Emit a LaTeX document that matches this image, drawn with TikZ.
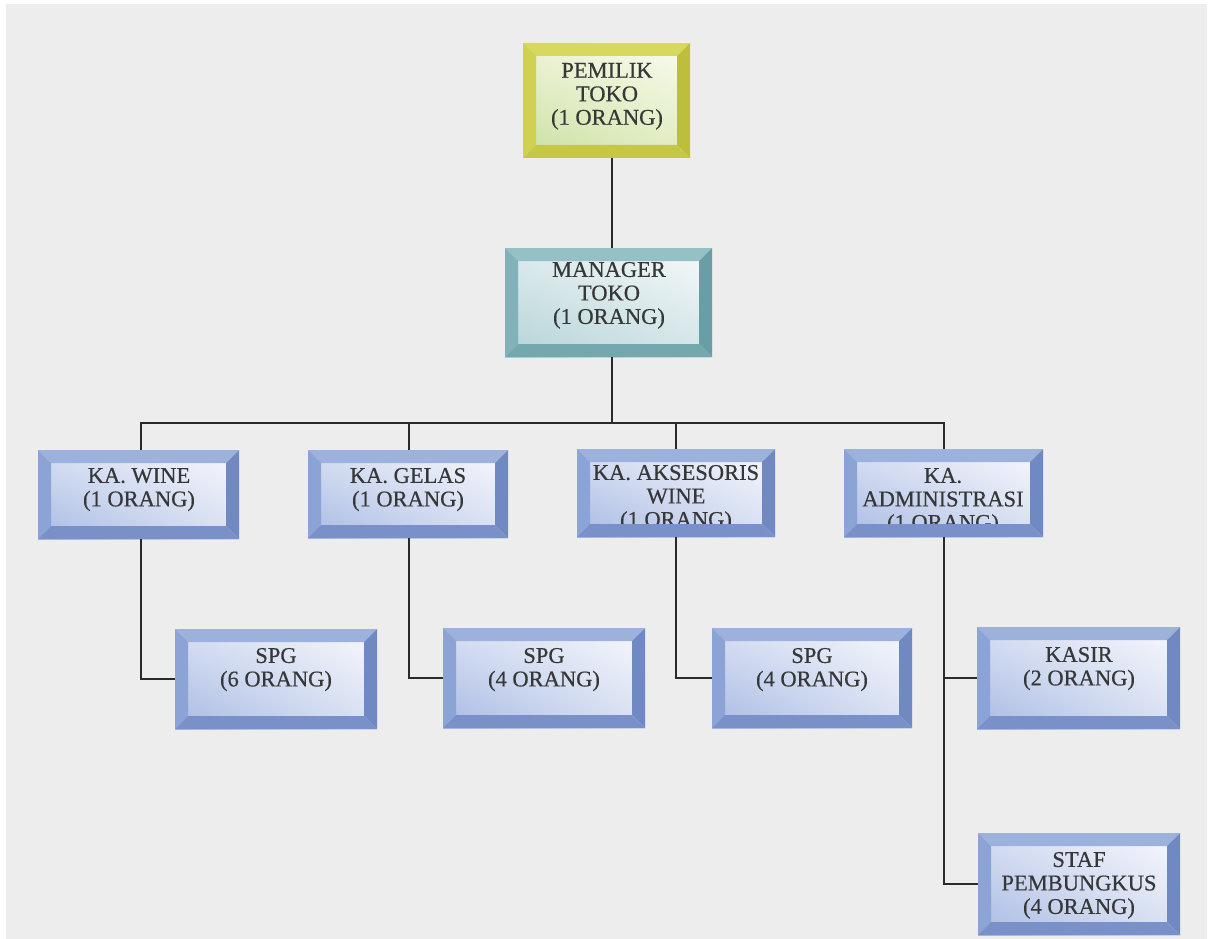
\documentclass[tikz,border=0pt]{standalone}
\usepackage{fontspec}
\setmainfont[FakeBold=0.5]{Liberation Serif}
\usetikzlibrary{shadings}
\definecolor{bgc}{HTML}{EDEDED}
\definecolor{txtc}{HTML}{363838}
\definecolor{linec}{HTML}{2A2A2A}
% blue scheme
\definecolor{bT}{HTML}{9CB1DC}
\definecolor{bL}{HTML}{8CA4D5}
\definecolor{bR}{HTML}{7189C2}
\definecolor{bB}{HTML}{7991C8}
\definecolor{bLL}{HTML}{A8BAE3}
\definecolor{bUL}{HTML}{D6DEF2}
\definecolor{bUR}{HTML}{F8F9FC}
\definecolor{bLR}{HTML}{D8E0F2}
% yellow scheme
\definecolor{yT}{HTML}{D8D85C}
\definecolor{yL}{HTML}{D0D052}
\definecolor{yR}{HTML}{BDBE3C}
\definecolor{yB}{HTML}{C5C747}
\definecolor{yLL}{HTML}{C9E0A0}
\definecolor{yUL}{HTML}{EEF3D8}
\definecolor{yUR}{HTML}{FAFBEF}
\definecolor{yLR}{HTML}{E0EDC2}
% teal scheme
\definecolor{tT}{HTML}{94C0C6}
\definecolor{tL}{HTML}{82B2B9}
\definecolor{tR}{HTML}{6A9EA6}
\definecolor{tB}{HTML}{74A7AE}
\definecolor{tLL}{HTML}{B3D2D6}
\definecolor{tUL}{HTML}{DDEBED}
\definecolor{tUR}{HTML}{F6F9FA}
\definecolor{tLR}{HTML}{D4E5E8}
\tikzset{
  face/.style={rectangle, inner sep=0pt, outer sep=0pt, shade,
    lower left=#1LL, upper left=#1UL, upper right=#1UR, lower right=#1LR},
  lbl/.style={inner sep=0pt, outer sep=0pt, align=center, text=txtc, anchor=north,
    font=\fontsize{22.5}{23.5}\selectfont},
  conn/.style={draw=linec, line width=1.4pt, line join=miter},
}
% box face: name, scheme, x1, y1, x2, y2
\newcommand\mkface[6]{%
  \node[face=#2, minimum width={#5-#3}, minimum height={#6-#4}] (#1)
    at ({(#3+#5)/2},{(#4+#6)/2}) {};}
% bevel frame: node, scheme, width
\newcommand\mkbevel[3]{%
  \fill[#2T] (#1.north west) -- (#1.north east) -- ([shift={(-#3pt,-#3pt)}]#1.north east) -- ([shift={(#3pt,-#3pt)}]#1.north west) -- cycle;
  \fill[#2L] (#1.north west) -- ([shift={(#3pt,-#3pt)}]#1.north west) -- ([shift={(#3pt,#3pt)}]#1.south west) -- (#1.south west) -- cycle;
  \fill[#2R] (#1.north east) -- ([shift={(-#3pt,-#3pt)}]#1.north east) -- ([shift={(-#3pt,#3pt)}]#1.south east) -- (#1.south east) -- cycle;
  \fill[#2B] (#1.south west) -- ([shift={(#3pt,#3pt)}]#1.south west) -- ([shift={(-#3pt,#3pt)}]#1.south east) -- (#1.south east) -- cycle;}
\begin{document}
\begin{tikzpicture}[x=1pt,y=-1pt]
\useasboundingbox (0,0) rectangle (1211,939);
\fill[white] (0,0) rectangle (1211,939);
\fill[bgc] (6,4) rectangle (1207,939);

% faces
\mkface{pemilik}{y}{523}{43}{690}{158}
\mkface{manager}{t}{505}{248}{712}{357}
\mkface{kawine}{b}{38}{450}{239}{539}
\mkface{kagelas}{b}{308}{450}{508}{538}
\mkface{kaaks}{b}{577}{449}{775}{537}
\mkface{kaadm}{b}{844}{449}{1043}{537}
\mkface{spga}{b}{175}{629}{377}{729}
\mkface{spgb}{b}{443}{628}{645}{728}
\mkface{spgc}{b}{712}{628}{912}{728}
\mkface{kasir}{b}{977}{627}{1180}{729}
\mkface{staf}{b}{978}{833}{1180}{935}

% texts
\node[lbl] (tpemilik) at (607,63) {PEMILIK\\TOKO\\(1 ORANG)};
\node[lbl] (tmanager) at (609,262) {MANAGER\\TOKO\\(1 ORANG)};
\node[lbl] (tkawine) at (139,468) {KA. WINE\\(1 ORANG)};
\node[lbl] (tkagelas) at (408,468) {KA. GELAS\\(1 ORANG)};
\node[lbl] (tkaaks) at (676,465) {KA. AKSESORIS\\WINE\\(1 ORANG)};
\node[lbl] (tkaadm) at (943,468) {KA.\\ADMINISTRASI\\(1 ORANG)};
\node[lbl] (tspga) at (276,648) {SPG\\(6 ORANG)};
\node[lbl] (tspgb) at (544,648) {SPG\\(4 ORANG)};
\node[lbl] (tspgc) at (812,648) {SPG\\(4 ORANG)};
\node[lbl] (tkasir) at (1079,647) {KASIR\\(2 ORANG)};
\node[lbl] (tstaf) at (1079,852) {STAF\\PEMBUNGKUS\\(4 ORANG)};

% bevels
\mkbevel{pemilik}{y}{13}
\mkbevel{manager}{t}{13}
\mkbevel{kawine}{b}{13}
\mkbevel{kagelas}{b}{13}
\mkbevel{kaaks}{b}{13}
\mkbevel{kaadm}{b}{13}
\mkbevel{spga}{b}{13}
\mkbevel{spgb}{b}{13}
\mkbevel{spgc}{b}{13}
\mkbevel{kasir}{b}{13}
\mkbevel{staf}{b}{13}

% connectors
\coordinate (c0) at (612,0);
\coordinate (d1) at (141,423);
\coordinate (d2) at (409,423);
\coordinate (d3) at (676,423);
\coordinate (d4) at (944,423);
\draw[conn] (pemilik.south -| c0) -- (manager.north -| c0);
\draw[conn] (manager.south -| c0) -- (c0 |- d1);
\draw[conn] (d1 |- kawine.north) -- (d1) -- (d4) -- (d4 |- kaadm.north);
\draw[conn] (d2) -- (d2 |- kagelas.north);
\draw[conn] (d3) -- (d3 |- kaaks.north);
\draw[conn] (d1 |- kawine.south) |- (spga.west);
\draw[conn] (d2 |- kagelas.south) |- (spgb.west);
\draw[conn] (d3 |- kaaks.south) |- (spgc.west);
\draw[conn] (d4 |- kaadm.south) |- (staf.west);
\draw[conn] (d4 |- kasir.west) -- (kasir.west);
\end{tikzpicture}
\end{document}
